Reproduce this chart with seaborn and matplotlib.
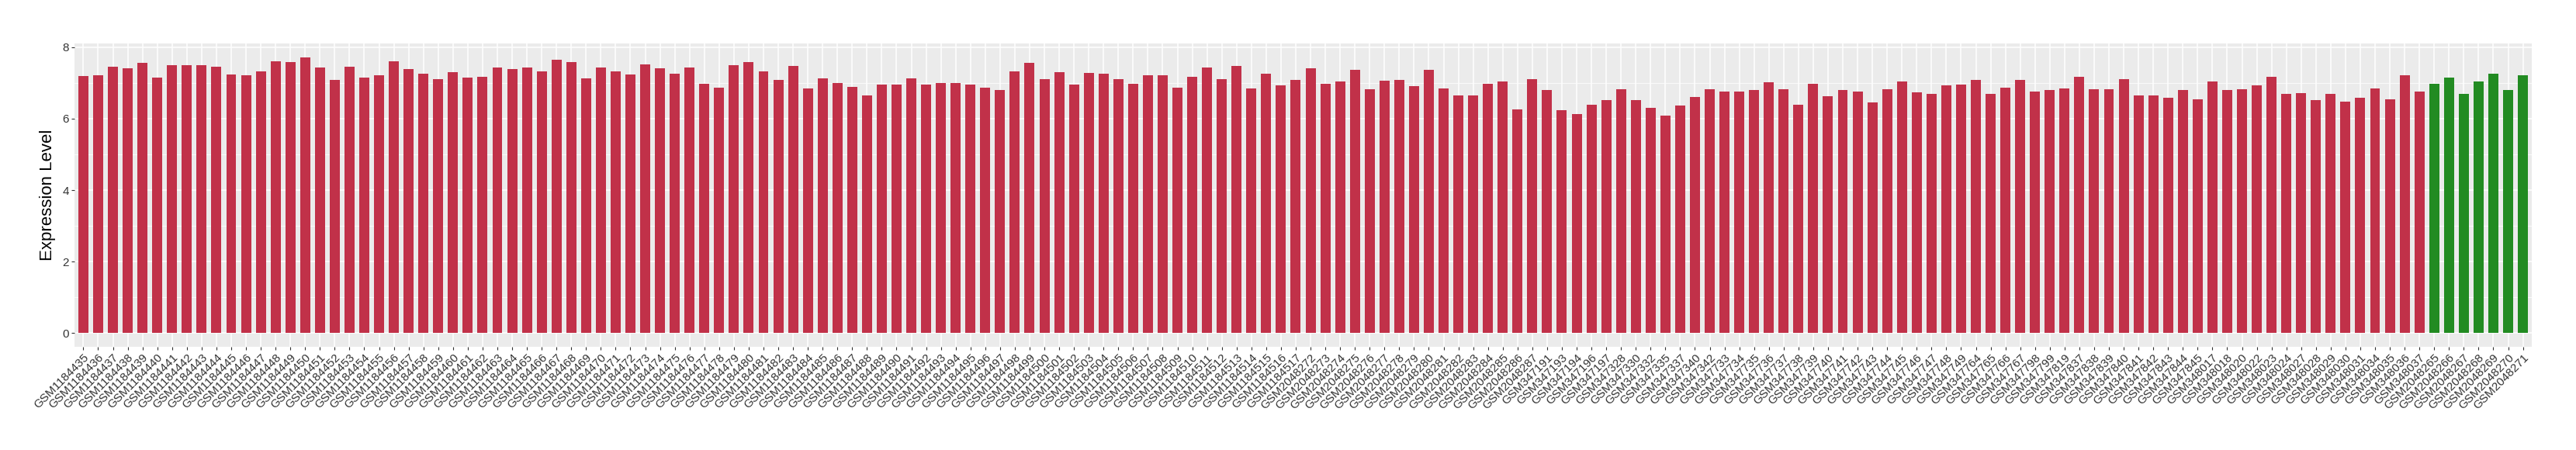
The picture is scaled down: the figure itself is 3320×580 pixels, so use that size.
import numpy as np
import pandas as pd
import matplotlib
matplotlib.use("Agg")
import matplotlib.pyplot as plt
import seaborn as sns

# sample ids (x tick labels)
ids_1184 = [f"GSM{n}" for n in range(1184435, 1184518)]
ids_2048_a = [f"GSM{n}" for n in range(2048272, 2048288)]
ids_347 = ["GSM347191", "GSM347193", "GSM347194", "GSM347196", "GSM347197",
           "GSM347328", "GSM347330", "GSM347332", "GSM347335", "GSM347337",
           "GSM347340", "GSM347342"] \
    + [f"GSM{n}" for n in range(347733, 347750)] \
    + ["GSM347764", "GSM347765", "GSM347766", "GSM347767", "GSM347798",
       "GSM347799", "GSM347819"] \
    + [f"GSM{n}" for n in range(347837, 347846)]
ids_348 = ["GSM348017", "GSM348018", "GSM348020", "GSM348022", "GSM348023",
           "GSM348024", "GSM348027", "GSM348028", "GSM348029", "GSM348030",
           "GSM348031", "GSM348034", "GSM348035", "GSM348036", "GSM348037"]
ids_green = [f"GSM{n}" for n in range(2048265, 2048272)]

# expression values
vals_1184 = [7.19, 7.21, 7.45, 7.41, 7.56, 7.15, 7.50, 7.50, 7.50, 7.45,
             7.23, 7.21, 7.32, 7.61, 7.58, 7.72, 7.43, 7.08, 7.45, 7.15,
             7.21, 7.61, 7.39, 7.26, 7.10, 7.30, 7.15,
             7.17, 7.43, 7.39, 7.43, 7.32, 7.65, 7.58, 7.12, 7.43, 7.32,
             7.23, 7.52, 7.41, 7.26, 7.43, 6.97, 6.86, 7.50, 7.58, 7.32,
             7.08, 7.47, 6.84, 7.12, 6.99, 6.88, 6.64, 6.95,
             6.95, 7.12, 6.95, 6.99, 6.99, 6.95, 6.86, 6.80, 7.32, 7.56,
             7.10, 7.30, 6.95, 7.28, 7.26, 7.10, 6.97, 7.21, 7.21, 6.86,
             7.17, 7.43, 7.10, 7.47, 6.84, 7.26, 6.93, 7.08]
vals_2048_a = [7.41, 6.97, 7.04, 7.36, 6.82, 7.06, 7.08, 6.91, 7.36, 6.84,
               6.66, 6.64, 6.97, 7.04, 6.27, 7.10]
vals_347 = [6.80, 6.23, 6.14, 6.40, 6.51, 6.82, 6.53, 6.31, 6.09, 6.36,
            6.60, 6.82, 6.75, 6.77, 6.80, 7.01, 6.82, 6.38, 6.97, 6.62,
            6.80, 6.77, 6.45, 6.82, 7.04, 6.73, 6.69, 6.93, 6.95, 7.08,
            6.69, 6.86, 7.08, 6.77, 6.80, 6.84, 7.17, 6.82, 6.82, 7.10,
            6.64, 6.66, 6.58, 6.80, 6.55]
vals_348 = [7.04, 6.80, 6.82, 6.93, 7.17, 6.69, 6.71, 6.53, 6.69, 6.47,
            6.58, 6.84, 6.55, 7.21, 6.75]
vals_green = [6.97, 7.15, 6.69, 7.04, 7.26, 6.80, 7.21]

RED = "#C13149"
GREEN = "#228B22"

samples = ids_1184 + ids_2048_a + ids_347 + ids_348 + ids_green
values = vals_1184 + vals_2048_a + vals_347 + vals_348 + vals_green
groups = ["a"] * (len(samples) - len(ids_green)) + ["b"] * len(ids_green)
df = pd.DataFrame({"sample": samples, "value": values, "group": groups})

plt.rcParams["font.family"] = ["Liberation Sans", "DejaVu Sans"]

fig, ax = plt.subplots(figsize=(33.2, 5.8), dpi=100)
fig.subplots_adjust(left=96 / 3320, right=3263 / 3320, top=1 - 56 / 580, bottom=1 - 447 / 580)

ax.set_facecolor("#EBEBEB")
ax.set_axisbelow(True)
sns.barplot(data=df, x="sample", y="value", hue="group", palette={"a": RED, "b": GREEN},
            dodge=False, width=0.68, saturation=1, legend=False, ax=ax)

n = len(df)
ax.set_xlim(-0.6, n - 0.4)
ymax = max(values)
ax.set_ylim(-0.05 * ymax, ymax * 1.05)
ax.set_yticks([0, 2, 4, 6, 8])
ax.set_yticks([1, 3, 5, 7], minor=True)
ax.grid(which="major", color="white", linewidth=1.1)
ax.grid(which="minor", axis="y", color="white", linewidth=0.55)
for s in ax.spines.values():
    s.set_visible(False)

ax.tick_params(axis="both", which="major", length=3, width=0.8, color="#333333",
               labelcolor="#333333", labelsize=11, pad=2)
ax.tick_params(axis="y", which="minor", length=0)
plt.setp(ax.get_xticklabels(), rotation=45, ha="right", va="top", rotation_mode="anchor")

ax.set_xlabel("")
ax.set_ylabel("Expression Level", fontsize=16, color="black", labelpad=6)

fig.savefig("out.png", dpi=100)
